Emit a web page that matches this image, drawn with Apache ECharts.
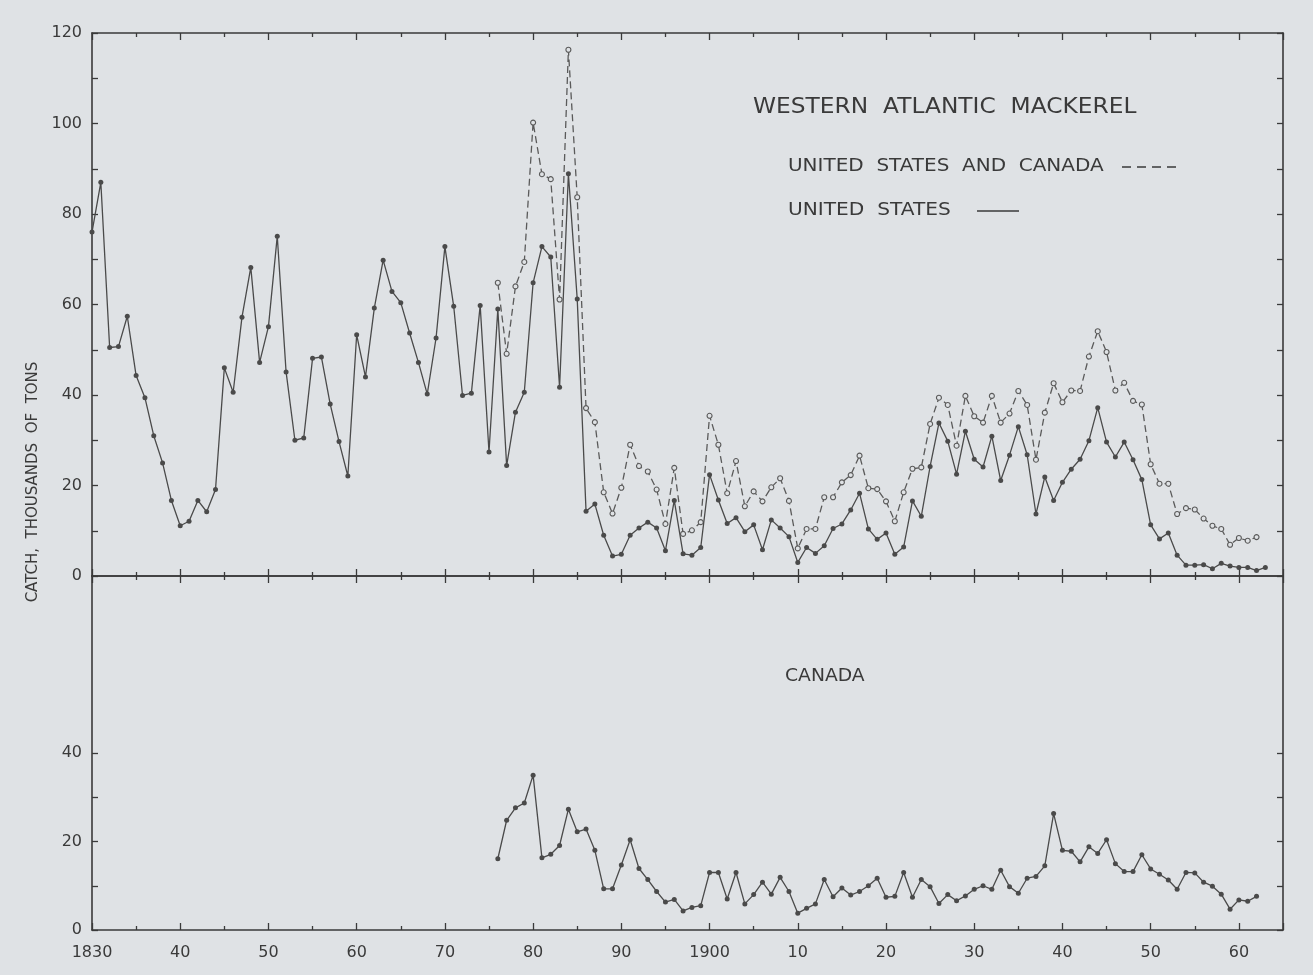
<!DOCTYPE html>
<html>
<head>
<meta charset="utf-8">
<script src="https://cdn.jsdelivr.net/npm/echarts@6/dist/echarts.min.js"></script>
<style>
  html, body { margin: 0; padding: 0; background: #dfe2e5; }
  #c { width: 1313px; height: 975px; }
</style>
</head>
<body>
<div id="c"></div>
<script>
// ---------------- DATA (thousands of tons) ----------------
const US_START = 1830;
const usCatch = [
  76.0, 87.0, 50.5, 50.7, 57.4, 44.3, 39.4, 31.0, 25.0, 16.7,
  11.1, 12.1, 16.7, 14.2, 19.1, 46.0, 40.6, 57.2, 68.2, 47.2,
  55.1, 75.1, 45.1, 30.0, 30.5, 48.1, 48.4, 38.0, 29.7, 22.1,
  53.3, 44.0, 59.2, 69.8, 62.9, 60.4, 53.7, 47.2, 40.2, 52.6,
  72.8, 59.6, 39.9, 40.4, 59.8, 27.4, 59.0, 24.4, 36.2, 40.6,
  64.8, 72.8, 70.5, 41.7, 88.9, 61.2, 14.3, 15.9, 9.0, 4.4,
  4.8, 9.0, 10.6, 11.9, 10.6, 5.6, 16.7, 4.9, 4.6, 6.3,
  22.4, 16.8, 11.6, 12.9, 9.8, 11.3, 5.8, 12.4, 10.6, 8.7,
  3.0, 6.3, 5.0, 6.7, 10.5, 11.5, 14.6, 18.3, 10.4, 8.1,
  9.5, 4.8, 6.4, 16.6, 13.2, 24.2, 33.8, 29.8, 22.5, 32.0,
  25.8, 24.1, 30.9, 21.1, 26.7, 33.0, 26.8, 13.7, 21.9, 16.7,
  20.7, 23.6, 25.8, 29.9, 37.2, 29.6, 26.3, 29.6, 25.7, 21.3,
  11.3, 8.2, 9.5, 4.6, 2.4, 2.4, 2.5, 1.6, 2.8, 2.2,
  1.9, 1.9, 1.2, 1.9
];

const TOTAL_START = 1876;
const totalCatch = [
  64.8, 49.1, 64.0, 69.4,
  100.2, 88.8, 87.7, 61.1, 116.3, 83.7, 37.1, 34.0, 18.5, 13.8,
  19.5, 29.0, 24.3, 23.1, 19.1, 11.5, 23.9, 9.3, 10.1, 11.9,
  35.4, 29.0, 18.3, 25.4, 15.4, 18.7, 16.5, 19.6, 21.6, 16.6,
  6.1, 10.4, 10.4, 17.4, 17.4, 20.7, 22.3, 26.6, 19.4, 19.2,
  16.5, 12.1, 18.5, 23.7, 24.0, 33.6, 39.4, 37.8, 28.8, 39.8,
  35.3, 33.9, 39.8, 33.9, 35.9, 40.9, 37.8, 25.7, 36.1, 42.6,
  38.4, 41.0, 40.9, 48.5, 54.1, 49.5, 41.0, 42.7, 38.7, 37.9,
  24.7, 20.4, 20.4, 13.7, 15.0, 14.7, 12.7, 11.1, 10.4, 6.9,
  8.4, 7.8, 8.6
];

const CANADA_START = 1876;
const canadaCatch = [
  16.1, 24.8, 27.6, 28.7,
  35.0, 16.3, 17.1, 19.1, 27.3, 22.2, 22.8, 18.0, 9.3, 9.3,
  14.7, 20.4, 13.9, 11.4, 8.7, 6.3, 6.9, 4.3, 5.1, 5.5,
  13.0, 13.0, 7.0, 13.0, 5.9, 8.0, 10.8, 8.1, 11.9, 8.7,
  3.8, 4.9, 5.9, 11.4, 7.5, 9.5, 7.9, 8.7, 10.0, 11.7,
  7.4, 7.6, 13.0, 7.4, 11.4, 9.8, 6.0, 8.0, 6.6, 7.7,
  9.2, 10.0, 9.2, 13.5, 9.8, 8.3, 11.7, 12.1, 14.5, 26.3,
  18.0, 17.8, 15.4, 18.8, 17.3, 20.4, 15.0, 13.2, 13.2, 17.0,
  13.8, 12.6, 11.3, 9.2, 13.0, 12.9, 10.8, 9.9, 8.1, 4.7,
  6.8, 6.5, 7.6
];

const xTickYears  = [1830, 1840, 1850, 1860, 1870, 1880, 1890, 1900, 1910, 1920, 1930, 1940, 1950, 1960];
const xTickLabels = ['1830', '40', '50', '60', '70', '80', '90', '1900', '10', '20', '30', '40', '50', '60'];
const topYLabels    = [0, 20, 40, 60, 80, 100, 120];
const bottomYLabels = [0, 20, 40];
const bottomYTicks  = [0, 10, 20, 30, 40];

// ---------------- CHART ----------------
function pairs(start, vals) { return vals.map((v, i) => [start + i, v]); }

const BG = '#dfe2e5';
const INK = '#3a3a3a';
const LINE = '#4a4a4a';
const FONT = 'DejaVu Sans';

function xAxis(gridIndex, position, withLabels) {
  return {
    type: 'value', gridIndex, position,
    min: 1830, max: 1965, interval: 10,
    axisLine: { show: true, onZero: false, lineStyle: { color: INK, width: 1.6 } },
    axisTick: { show: true, inside: true, length: 7, lineStyle: { color: INK, width: 1.3 } },
    minorTick: { show: true, splitNumber: 2, length: 4, lineStyle: { color: INK, width: 1.3 } },
    splitLine: { show: false }, minorSplitLine: { show: false },
    axisLabel: {
      show: withLabels, margin: 15, color: INK, fontFamily: FONT, fontSize: 16,
      formatter: v => { const k = xTickYears.indexOf(v); return k >= 0 ? xTickLabels[k] : ''; }
    }
  };
}

function yAxis(gridIndex, position, max, withLabels, labelVals, tickVals) {
  const ax = {
    type: 'value', gridIndex, position,
    min: 0, max, interval: 10,
    axisLine: { show: true, onZero: false, lineStyle: { color: INK, width: 1.6 } },
    axisTick: { show: true, inside: true, length: 6, lineStyle: { color: INK, width: 1.3 } },
    splitLine: { show: false },
    axisLabel: {
      show: withLabels, margin: 10, color: INK, fontFamily: FONT, fontSize: 16,
      formatter: v => (labelVals.indexOf(v) >= 0 ? String(v) : '')
    }
  };
  if (tickVals) ax.axisTick.customValues = tickVals;
  return ax;
}

// stretched text line (the original lettering is widely spaced)
function label(text, x, y, size, sx) {
  return {
    type: 'text', x, y, scaleX: sx, scaleY: 1, originX: 0, originY: 0,
    style: { text, fill: INK, font: size + 'px "DejaVu Sans"', align: 'left', verticalAlign: 'middle' }
  };
}

const option = {
  backgroundColor: BG,
  animation: false,
  grid: [
    { left: 92, right: 30, top: 33, height: 543 },
    { left: 92, right: 30, top: 576, height: 354 }
  ],
  xAxis: [
    xAxis(0, 'bottom', false),
    xAxis(0, 'top', false),
    xAxis(1, 'bottom', true),
    xAxis(1, 'top', false)
  ],
  yAxis: [
    yAxis(0, 'left', 120, true, topYLabels),
    yAxis(0, 'right', 120, false, []),
    yAxis(1, 'left', 80, true, bottomYLabels, bottomYTicks),
    yAxis(1, 'right', 80, false, [], bottomYTicks)
  ],
  series: [
    {
      name: 'UNITED STATES', type: 'line', xAxisIndex: 0, yAxisIndex: 0,
      data: pairs(US_START, usCatch),
      symbol: 'circle', symbolSize: 5,
      itemStyle: { color: LINE },
      lineStyle: { color: LINE, width: 1.3 },
      z: 3
    },
    {
      name: 'UNITED STATES AND CANADA', type: 'line', xAxisIndex: 0, yAxisIndex: 0,
      data: pairs(TOTAL_START, totalCatch),
      symbol: 'circle', symbolSize: 5,
      itemStyle: { color: BG, borderColor: '#5a5a5a', borderWidth: 1.1 },
      lineStyle: { color: '#5a5a5a', width: 1.3, type: [7, 4] },
      z: 2
    },
    {
      name: 'CANADA', type: 'line', xAxisIndex: 2, yAxisIndex: 2,
      data: pairs(CANADA_START, canadaCatch),
      symbol: 'circle', symbolSize: 5,
      itemStyle: { color: LINE },
      lineStyle: { color: LINE, width: 1.3 }
    }
  ],
  graphic: [
    label('WESTERN  ATLANTIC  MACKEREL', 753, 107, 22, 1.06),
    label('UNITED  STATES  AND  CANADA', 788, 166, 18, 1.11),
    { type: 'line', shape: { x1: 1122, y1: 167, x2: 1182, y2: 167 },
      style: { stroke: INK, lineWidth: 1.6, lineDash: [9, 6] } },
    label('UNITED  STATES', 788, 210, 18, 1.12),
    { type: 'line', shape: { x1: 977, y1: 211, x2: 1019, y2: 211 },
      style: { stroke: INK, lineWidth: 1.6 } },
    label('CANADA', 785, 676, 18, 1.04),
    { type: 'text', x: 33, y: 482, rotation: Math.PI / 2,
      style: { text: 'CATCH,  THOUSANDS  OF  TONS', fill: INK, font: '15px "DejaVu Sans"',
               align: 'center', verticalAlign: 'middle' } }
  ]
};

const chart = echarts.init(document.getElementById('c'), null, { renderer: 'canvas' });
chart.setOption(option);
</script>
</body>
</html>
